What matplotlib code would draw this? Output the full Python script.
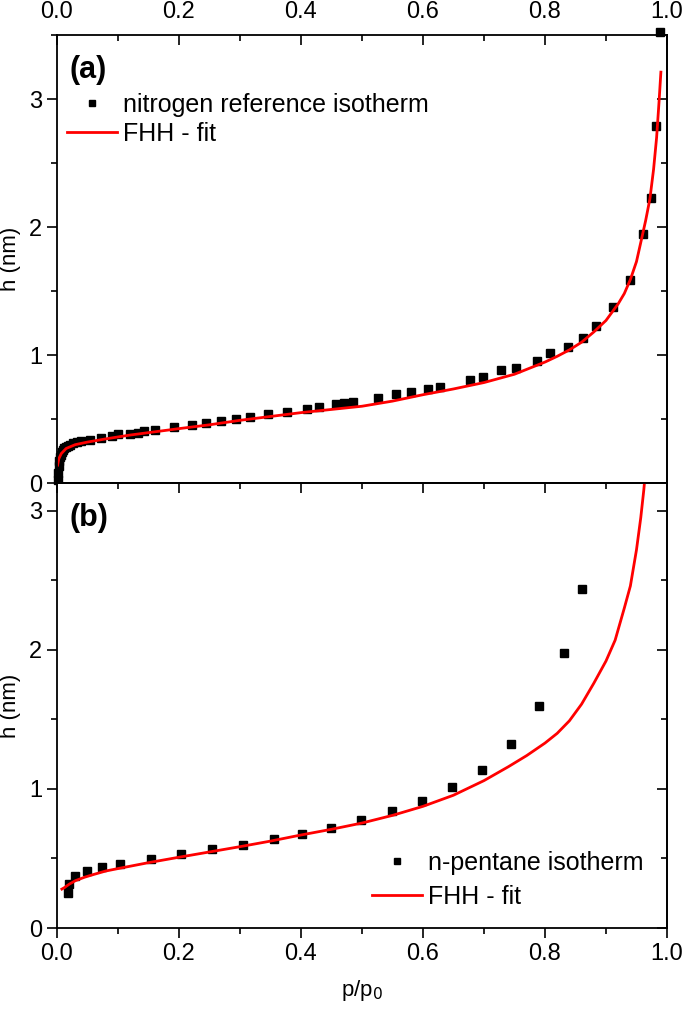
import matplotlib
matplotlib.use('Agg')
import matplotlib.pyplot as plt
from matplotlib.ticker import MultipleLocator, NullFormatter

plt.rcParams['font.family'] = ['Liberation Sans', 'DejaVu Sans']

# (a) nitrogen reference isotherm
n2_x = [0.001, 0.002, 0.003, 0.004, 0.005, 0.006, 0.008, 0.010, 0.012, 0.015,
        0.018, 0.022, 0.027, 0.033, 0.040, 0.054, 0.072, 0.090, 0.100, 0.120,
        0.132, 0.143, 0.160, 0.192, 0.222, 0.245, 0.269, 0.294, 0.316, 0.346,
        0.377, 0.410, 0.430, 0.458, 0.470, 0.486, 0.527, 0.555, 0.581, 0.609,
        0.628, 0.677, 0.698, 0.728, 0.752, 0.787, 0.808, 0.837, 0.862, 0.884,
        0.911, 0.939, 0.960, 0.974, 0.982, 0.989]
n2_h = [0.02, 0.08, 0.13, 0.17, 0.20, 0.22, 0.245, 0.26, 0.27, 0.28,
        0.29, 0.30, 0.31, 0.32, 0.325, 0.336, 0.354, 0.367, 0.380, 0.385,
        0.393, 0.404, 0.414, 0.435, 0.453, 0.471, 0.487, 0.503, 0.518, 0.539,
        0.555, 0.576, 0.591, 0.617, 0.622, 0.633, 0.667, 0.693, 0.708, 0.732,
        0.752, 0.805, 0.830, 0.880, 0.898, 0.956, 1.016, 1.065, 1.135, 1.229,
        1.377, 1.583, 1.943, 2.23, 2.79, 3.52]

n2_fit_x = [0.001, 0.003, 0.007, 0.015, 0.03, 0.05, 0.08, 0.12, 0.16, 0.2,
            0.25, 0.3, 0.35, 0.4, 0.45, 0.5, 0.55, 0.6, 0.65, 0.7,
            0.75, 0.8, 0.82, 0.84, 0.86, 0.88, 0.9, 0.92, 0.93, 0.94,
            0.95, 0.958, 0.965, 0.972, 0.978, 0.983, 0.987, 0.990]
n2_fit_h = [0.14, 0.19, 0.23, 0.27, 0.30, 0.32, 0.345, 0.375, 0.40, 0.425,
            0.455, 0.49, 0.52, 0.55, 0.575, 0.60, 0.64, 0.69, 0.735, 0.785,
            0.85, 0.945, 0.99, 1.04, 1.10, 1.18, 1.27, 1.40, 1.48, 1.59,
            1.73, 1.90, 2.05, 2.22, 2.45, 2.70, 2.98, 3.21]

# (b) n-pentane isotherm
c5_x = [0.0175, 0.020, 0.030, 0.049, 0.074, 0.103, 0.154, 0.203, 0.254, 0.305,
        0.356, 0.401, 0.449, 0.499, 0.549, 0.598, 0.648, 0.696, 0.744, 0.791,
        0.831, 0.861]
c5_h = [0.254, 0.32, 0.374, 0.412, 0.441, 0.462, 0.496, 0.53, 0.566, 0.595,
        0.638, 0.676, 0.722, 0.78, 0.839, 0.914, 1.012, 1.137, 1.32, 1.597,
        1.98, 2.44]

c5_fit_x = [0.008, 0.012, 0.02, 0.03, 0.045, 0.06, 0.08, 0.103, 0.15, 0.20,
            0.25, 0.30, 0.35, 0.40, 0.45, 0.50, 0.55, 0.60, 0.65, 0.70,
            0.74, 0.77, 0.80, 0.82, 0.84, 0.86, 0.88, 0.90, 0.915, 0.93,
            0.94, 0.95, 0.957, 0.962, 0.966]
c5_fit_h = [0.28, 0.29, 0.315, 0.34, 0.365, 0.385, 0.41, 0.43, 0.47, 0.509,
            0.547, 0.585, 0.625, 0.669, 0.71, 0.755, 0.81, 0.875, 0.955, 1.06,
            1.16, 1.24, 1.33, 1.40, 1.49, 1.61, 1.76, 1.92, 2.07, 2.30,
            2.46, 2.72, 2.95, 3.15, 3.35]

fig = plt.figure(figsize=(6.85, 10.15), dpi=100)
ax1 = fig.add_axes([0.0832, 0.5241, 0.8905, 0.4414])
ax2 = fig.add_axes([0.0832, 0.0857, 0.8905, 0.4384])

ax1.plot(n2_x, n2_h, 's', color='black', ms=6, clip_on=False,
         label='nitrogen reference isotherm')
ax1.plot(n2_fit_x, n2_fit_h, '-', color='red', lw=2, label='FHH - fit')
ax1.set_xlim(0, 1)
ax1.set_ylim(0, 3.5)
ax1.set_ylabel('h (nm)', fontsize=16, labelpad=6)
ax1.text(0.02, 0.955, '(a)', transform=ax1.transAxes, fontsize=22,
         fontweight='bold', va='top')
ax1.legend(loc='upper left', bbox_to_anchor=(0.0, 0.893), frameon=False,
           fontsize=18, markerscale=0.65, handlelength=2.0, handletextpad=0.25,
           labelspacing=0.2, borderaxespad=0)

ax2.plot(c5_x, c5_h, 's', color='black', ms=6, label='n-pentane isotherm')
ax2.plot(c5_fit_x, c5_fit_h, '-', color='red', lw=2, label='FHH - fit')
ax2.set_xlim(0, 1)
ax2.set_ylim(0, 3.2)
ax2.set_ylabel('h (nm)', fontsize=16, labelpad=6)
ax2.set_xlabel('p/p$_0$', fontsize=16, labelpad=10)
ax2.text(0.02, 0.955, '(b)', transform=ax2.transAxes, fontsize=22,
         fontweight='bold', va='top')
ax2.legend(loc='lower right', bbox_to_anchor=(0.978, 0.02), frameon=False,
           fontsize=18, markerscale=0.65, handlelength=2.0, handletextpad=0.25,
           labelspacing=0.4, borderaxespad=0)

for ax in (ax1, ax2):
    ax.xaxis.set_major_locator(MultipleLocator(0.2))
    ax.xaxis.set_minor_locator(MultipleLocator(0.1))
    ax.yaxis.set_major_locator(MultipleLocator(1))
    ax.yaxis.set_minor_locator(MultipleLocator(0.5))
    ax.tick_params(which='both', labelsize=17, width=1.2)
    ax.tick_params(which='major', length=7)
    ax.tick_params(which='minor', length=4)
    ax.tick_params(axis='y', which='both', left=True, right=False,
                   direction='out')
    for s in ax.spines.values():
        s.set_linewidth(1.3)
    # inward ticks on the right side
    sec = ax.secondary_yaxis('right')
    sec.yaxis.set_major_locator(MultipleLocator(1))
    sec.yaxis.set_minor_locator(MultipleLocator(0.5))
    sec.yaxis.set_major_formatter(NullFormatter())
    sec.tick_params(which='both', direction='in', width=1.2)
    sec.tick_params(which='major', length=7)
    sec.tick_params(which='minor', length=4)
    sec.spines['right'].set_linewidth(1.3)

ax1.tick_params(axis='x', which='both', top=True, bottom=False,
                labeltop=True, labelbottom=False, direction='in', pad=9)
ax2.tick_params(axis='x', which='both', top=False, bottom=True,
                labeltop=False, labelbottom=True, direction='out')

sec2 = ax2.secondary_xaxis('top')
sec2.xaxis.set_major_locator(MultipleLocator(0.2))
sec2.xaxis.set_minor_locator(MultipleLocator(0.1))
sec2.xaxis.set_major_formatter(NullFormatter())
sec2.tick_params(which='both', direction='in', width=1.2)
sec2.tick_params(which='major', length=7)
sec2.tick_params(which='minor', length=4)
sec2.spines['top'].set_linewidth(1.3)

fig.savefig('out.png', dpi=100)
